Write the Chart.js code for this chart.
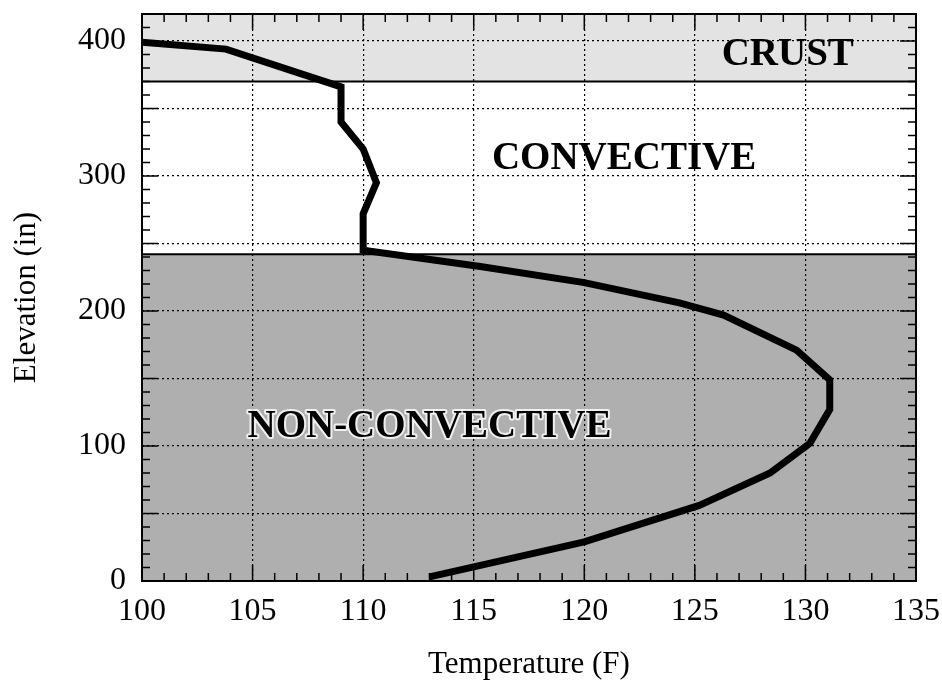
<!DOCTYPE html>
<html>
<head>
<meta charset="utf-8">
<script src="https://cdn.jsdelivr.net/npm/chart.js@4/dist/chart.umd.min.js"></script>
<style>
  html, body { margin: 0; padding: 0; background: #fff; }
  canvas { display: block; }
</style>
</head>
<body>
<canvas id="tempChart" width="942" height="683"></canvas>
<script>
// temperature profile
const temperature = [100, 103.8, 109.0, 109.0, 110.0, 110.6, 110.0, 110.0, 115.3, 120.0, 124.3, 126.3, 129.6, 131.1, 131.1, 130.2, 128.4, 125.2, 120.0, 113.0];
const elevation = [399, 394, 366, 340, 320, 295, 272, 245, 233, 221, 206, 197, 171, 149, 127, 102, 80, 56, 29, 3];

// layers
const layerNames = ['CRUST', 'CONVECTIVE', 'NON-CONVECTIVE'];
const layerTop = [420, 370, 242];
const layerBottom = [370, 242, 0];
const layerFill = ['#e3e3e3', '#ffffff', '#afafaf'];
const labelTemp = [129.2, 121.8, 113.0];
const labelElev = [390, 313, 114];

const xMin = 100, xMax = 135;
const yMin = 0, yMax = 420;

const serif = "'Liberation Serif', 'Times New Roman', serif";

const layerPlugin = {
    id: 'layers',
    beforeDraw(chart) {
        const {ctx, chartArea, scales} = chart;
        ctx.save();
        for (let i = 0; i < layerNames.length; i++) {
            const yt = scales.y.getPixelForValue(layerTop[i]);
            const yb = scales.y.getPixelForValue(layerBottom[i]);
            ctx.fillStyle = layerFill[i];
            ctx.fillRect(chartArea.left, yt, chartArea.right - chartArea.left, yb - yt);
        }
        ctx.restore();
    },
    beforeDatasetsDraw(chart) {
        const {ctx, chartArea, scales} = chart;
        ctx.save();
        ctx.strokeStyle = '#000';
        ctx.lineWidth = 2;
        // boundaries between layers
        [layerBottom[0], layerBottom[1]].forEach(v => {
            const y = scales.y.getPixelForValue(v);
            ctx.beginPath();
            ctx.moveTo(chartArea.left, y);
            ctx.lineTo(chartArea.right, y);
            ctx.stroke();
        });
        // layer names
        ctx.font = 'bold 39px ' + serif;
        ctx.textAlign = 'center';
        ctx.textBaseline = 'middle';
        for (let i = 0; i < layerNames.length; i++) {
            const x = scales.x.getPixelForValue(labelTemp[i]);
            const y = scales.y.getPixelForValue(labelElev[i]);
            if (i === 2) {
                ctx.strokeStyle = 'rgba(255,255,255,0.8)';
                ctx.lineWidth = 4;
                ctx.lineJoin = 'round';
                ctx.strokeText(layerNames[i], x, y);
            }
            ctx.fillStyle = '#000';
            ctx.fillText(layerNames[i], x, y);
        }
        ctx.restore();
    },
    afterDatasetsDraw(chart) {
        const {ctx, chartArea, scales} = chart;
        const {left, right, top, bottom} = chartArea;
        ctx.save();
        ctx.strokeStyle = '#000';
        ctx.lineWidth = 1.5;
        // inward tick marks on all four sides
        for (let v = xMin; v <= xMax; v++) {
            const x = scales.x.getPixelForValue(v);
            const len = v % 5 === 0 ? 16 : 8;
            ctx.beginPath();
            ctx.moveTo(x, bottom); ctx.lineTo(x, bottom - len);
            ctx.moveTo(x, top); ctx.lineTo(x, top + len);
            ctx.stroke();
        }
        for (let v = yMin; v <= yMax; v += 10) {
            const y = scales.y.getPixelForValue(v);
            const len = v % 50 === 0 ? 16 : 8;
            ctx.beginPath();
            ctx.moveTo(left, y); ctx.lineTo(left + len, y);
            ctx.moveTo(right, y); ctx.lineTo(right - len, y);
            ctx.stroke();
        }
        ctx.lineWidth = 2;
        ctx.strokeRect(left, top, right - left, bottom - top);
        ctx.restore();
    }
};

const ctx = document.getElementById('tempChart').getContext('2d');
new Chart(ctx, {
    type: 'line',
    data: {
        datasets: [{
            data: temperature.map((t, i) => ({x: t, y: elevation[i]})),
            borderColor: '#000',
            borderWidth: 7,
            pointRadius: 0,
            tension: 0,
            fill: false
        }]
    },
    options: {
        responsive: false,
        animation: false,
        layout: { padding: { top: 14, right: 26, left: 0, bottom: 0 } },
        plugins: {
            legend: { display: false },
            tooltip: { enabled: false }
        },
        scales: {
            x: {
                type: 'linear',
                min: xMin,
                max: xMax,
                ticks: {
                    stepSize: 5,
                    color: '#000',
                    padding: 11,
                    maxRotation: 0,
                    autoSkip: false,
                    font: { family: serif, size: 32 }
                },
                grid: {
                    color: '#000',
                    lineWidth: 1.2,
                    drawTicks: false
                },
                border: { display: false, dash: [2, 3] },
                title: {
                    display: true,
                    text: 'Temperature (F)',
                    color: '#000',
                    font: { family: serif, size: 31 },
                    padding: 0
                },
                afterFit(scale) {
                    scale.height = 102;
                    scale.paddingLeft = 0;
                    scale.paddingRight = 0;
                }
            },
            y: {
                type: 'linear',
                min: yMin,
                max: yMax,
                ticks: {
                    stepSize: 50,
                    includeBounds: false,
                    color: '#000',
                    padding: 16,
                    autoSkip: false,
                    font: { family: serif, size: 32 },
                    callback: v => v % 100 === 0 ? v : ''
                },
                grid: {
                    color: '#000',
                    lineWidth: 1.2,
                    drawTicks: false
                },
                border: { display: false, dash: [2, 3] },
                title: {
                    display: true,
                    text: 'Elevation (in)',
                    color: '#000',
                    font: { family: serif, size: 31 },
                    padding: 8
                },
                afterFit(scale) {
                    scale.width = 142;
                    scale.paddingTop = 0;
                    scale.paddingBottom = 0;
                }
            }
        }
    },
    plugins: [layerPlugin]
});
</script>
</body>
</html>
